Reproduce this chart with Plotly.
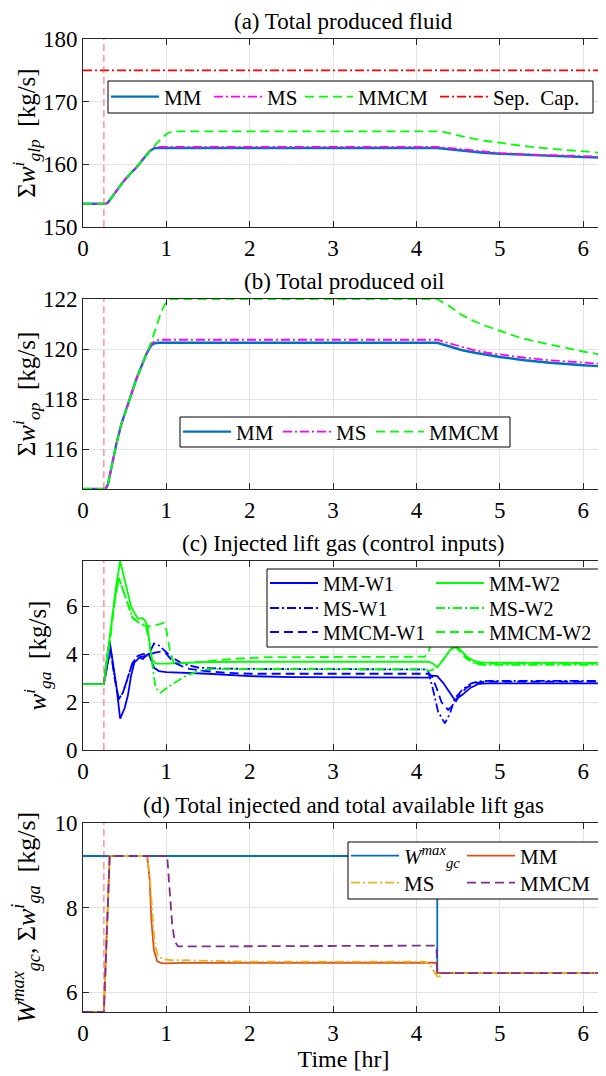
import plotly.graph_objects as go

# ---------------- data ----------------
X_RANGE = [0, 6.25]
DIST_T = 0.25  # disturbance time (vertical red dashed line)

# (a) total produced fluid [kg/s]
t_a = [0, 0.27, 0.30, 0.34, 0.40, 0.48, 0.56, 0.64, 0.72, 0.80, 0.85, 0.90,
       4.25, 4.40, 4.60, 4.80, 5.00, 5.30, 5.60, 6.00, 6.25]
fluid_mm = [153.7, 153.7, 153.9, 154.6, 155.7, 157.2, 158.4, 159.5, 160.8, 162.1, 162.55, 162.6,
            162.6, 162.4, 162.1, 161.85, 161.7, 161.5, 161.35, 161.15, 161.05]
fluid_ms = [153.7, 153.7, 153.9, 154.6, 155.7, 157.2, 158.4, 159.5, 160.8, 162.1, 162.7, 162.8,
            162.8, 162.6, 162.25, 162.0, 161.8, 161.6, 161.45, 161.3, 161.2]
t_a_mmcm = [0, 0.27, 0.30, 0.34, 0.40, 0.48, 0.56, 0.64, 0.72, 0.80, 0.88, 0.96, 1.02, 1.08,
            4.30, 4.45, 4.60, 4.80, 5.00, 5.30, 5.60, 6.00, 6.25]
fluid_mmcm = [153.7, 153.7, 153.9, 154.6, 155.7, 157.2, 158.4, 159.5, 160.8, 162.1, 163.3, 164.4, 165.0, 165.25,
              165.25, 164.8, 164.3, 163.8, 163.4, 162.9, 162.5, 162.05, 161.8]
t_sep = [0, 6.25]
sep_cap = [175, 175]

# (b) total produced oil [kg/s]
t_b = [0, 0.27, 0.30, 0.34, 0.40, 0.46, 0.52, 0.58, 0.64, 0.70, 0.76, 0.82, 0.86, 0.92,
       4.25, 4.40, 4.55, 4.70, 4.85, 5.00, 5.30, 5.60, 6.00, 6.25]
oil_mm = [114.4, 114.4, 114.6, 115.3, 116.2, 117.0, 117.6, 118.2, 118.8, 119.3, 119.8, 120.15, 120.23, 120.25,
          120.25, 120.1, 119.95, 119.85, 119.75, 119.68, 119.55, 119.45, 119.35, 119.3]
oil_ms = [114.4, 114.4, 114.6, 115.3, 116.2, 117.0, 117.6, 118.2, 118.8, 119.3, 119.8, 120.2, 120.32, 120.37,
          120.37, 120.22, 120.07, 119.95, 119.85, 119.78, 119.65, 119.55, 119.45, 119.4]
t_b_mmcm = [0, 0.27, 0.30, 0.34, 0.40, 0.46, 0.52, 0.58, 0.64, 0.70, 0.76, 0.82, 0.88, 0.94, 1.00, 1.05,
            4.25, 4.40, 4.55, 4.70, 4.85, 5.00, 5.20, 5.40, 5.60, 5.80, 6.00, 6.25]
oil_mmcm = [114.4, 114.4, 114.6, 115.3, 116.2, 117.0, 117.6, 118.2, 118.8, 119.3, 119.8, 120.3, 120.9, 121.5, 121.9, 122.0,
            122.0, 121.7, 121.35, 121.1, 120.9, 120.72, 120.5, 120.32, 120.17, 120.03, 119.9, 119.75]

# (c) injected lift gas per well [kg/s]
t_mm_w1 = [0, 0.25, 0.29, 0.32, 0.36, 0.40, 0.446, 0.50, 0.54, 0.576, 0.615, 0.675, 0.72, 0.76, 0.79, 0.82,
           0.852, 0.91, 1.00, 1.50, 2.00, 2.50, 4.15, 4.20, 4.25, 4.32, 4.40, 4.46, 4.55, 4.65, 4.75, 4.85, 6.25]
mm_w1 = [2.75, 2.75, 3.9, 4.54, 3.6, 2.67, 1.31, 1.75, 2.3, 3.08, 3.64, 3.85, 3.8, 3.95, 4.0, 3.7,
         3.43, 3.29, 3.25, 3.18, 3.08, 3.04, 3.02, 3.1, 3.08, 2.8, 2.4, 2.08, 2.3, 2.6, 2.76, 2.78, 2.78]
t_mm_w2 = [0, 0.25, 0.32, 0.40, 0.446, 0.50, 0.576, 0.62, 0.655, 0.69, 0.714, 0.745, 0.773, 0.813, 0.832,
           0.872, 1.00, 1.50, 2.00, 4.15, 4.20, 4.25, 4.32, 4.40, 4.46, 4.52, 4.60, 4.70, 4.80, 6.25]
mm_w2 = [2.75, 2.75, 4.7, 6.9, 7.88, 7.1, 6.0, 5.7, 5.5, 5.48, 5.5, 5.4, 5.17, 4.05, 3.75,
         3.6, 3.6, 3.67, 3.68, 3.68, 3.6, 3.45, 3.75, 4.15, 4.37, 4.2, 3.9, 3.7, 3.64, 3.63]
t_ms_w1 = [0, 0.25, 0.29, 0.33, 0.38, 0.43, 0.48, 0.54, 0.595, 0.655, 0.714, 0.79, 0.852, 0.91, 0.99, 1.07,
           1.19, 1.39, 1.60, 2.00, 4.10, 4.14, 4.20, 4.26, 4.34, 4.40, 4.46, 4.56, 4.66, 4.75, 4.85, 6.25]
ms_w1 = [2.75, 2.75, 3.5, 4.2, 3.0, 2.12, 2.4, 3.08, 3.64, 3.92, 4.0, 4.0, 4.44, 4.36, 4.12, 3.85,
         3.61, 3.43, 3.4, 3.38, 3.36, 3.3, 2.5, 1.6, 1.11, 1.5, 2.15, 2.55, 2.78, 2.86, 2.88, 2.88]
t_ms_w2 = [0, 0.25, 0.32, 0.38, 0.43, 0.517, 0.595, 0.675, 0.754, 0.79, 0.825, 0.87, 0.93, 1.07, 1.227,
           1.385, 1.50, 1.70, 2.00, 4.10, 4.15, 4.20, 4.26, 4.34, 4.40, 4.46, 4.54, 4.62, 4.70, 4.78, 6.25]
ms_w2 = [2.75, 2.75, 4.5, 6.2, 7.18, 6.28, 5.51, 5.3, 5.17, 4.6, 3.75, 2.6, 2.39, 2.74, 3.08,
         3.29, 3.37, 3.38, 3.38, 3.36, 3.3, 3.35, 3.5, 3.85, 4.15, 4.28, 4.1, 3.8, 3.6, 3.55, 3.55]
t_mmcm_w1 = [0, 0.25, 0.29, 0.33, 0.38, 0.43, 0.48, 0.54, 0.595, 0.655, 0.714, 0.79, 0.85, 0.93, 0.99, 1.05,
             1.12, 1.25, 1.45, 1.70, 2.00, 4.15, 4.18, 4.24, 4.30, 4.38, 4.45, 4.52, 4.60, 4.70, 4.80, 4.90, 6.25]
mmcm_w1 = [2.75, 2.75, 3.5, 4.2, 3.0, 2.12, 2.4, 3.08, 3.64, 3.85, 3.9, 3.95, 4.05, 4.1, 4.05, 3.8,
           3.6, 3.4, 3.3, 3.22, 3.18, 3.18, 3.1, 2.6, 2.0, 1.67, 1.9, 2.3, 2.6, 2.78, 2.84, 2.85, 2.85]
t_mmcm_w2 = [0, 0.25, 0.32, 0.38, 0.43, 0.517, 0.595, 0.675, 0.754, 0.79, 0.832, 0.91, 0.97, 1.00, 1.05,
             1.09, 1.20, 1.50, 1.80, 2.20, 4.10, 4.14, 4.18, 4.22, 4.28, 4.36, 4.45, 4.52, 4.60, 4.68, 4.76, 6.25]
mmcm_w2 = [2.75, 2.75, 4.5, 6.2, 7.18, 6.28, 5.51, 5.3, 5.17, 5.15, 5.17, 5.24, 5.3, 5.0, 4.0,
           3.64, 3.62, 3.7, 3.8, 3.87, 3.89, 4.0, 4.5, 4.8, 4.85, 4.75, 4.45, 4.1, 3.8, 3.65, 3.6, 3.6]

# (d) total injected and total available lift gas [kg/s]
t_wmax = [0, 4.25, 4.25, 6.25]
w_max = [9.22, 9.22, 6.45, 6.45]
t_tot_mm = [0, 0.25, 0.32, 0.77, 0.80, 0.82, 0.85, 0.89, 0.95, 1.20, 4.24, 4.25, 6.25]
tot_mm = [5.53, 5.53, 9.22, 9.22, 8.65, 7.71, 7.0, 6.73, 6.68, 6.69, 6.7, 6.45, 6.45]
t_tot_ms = [0, 0.25, 0.32, 0.77, 0.80, 0.83, 0.86, 0.90, 0.96, 1.05, 1.50, 2.00, 4.10, 4.16, 4.22,
            4.27, 4.29, 6.25]
tot_ms = [5.53, 5.53, 9.22, 9.22, 8.75, 7.85, 7.15, 6.85, 6.78, 6.76, 6.74, 6.72, 6.72, 6.65, 6.45,
          6.32, 6.45, 6.45]
t_tot_mmcm = [0, 0.25, 0.32, 1.01, 1.04, 1.07, 1.10, 1.14, 1.25, 4.24, 4.25, 6.25]
tot_mmcm = [5.53, 5.53, 9.22, 9.22, 8.4, 7.6, 7.2, 7.08, 7.08, 7.1, 6.45, 6.45]

# axis ranges / ticks
y_ranges = [[150, 180], [114.4, 122.0], [0, 7.88], [5.53, 10]]
y_ticks = [[150, 160, 170, 180], [116, 118, 120, 122], [0, 2, 4, 6], [6, 8, 10]]
x_ticks = [0, 1, 2, 3, 4, 5, 6]

# ---------------- layout helpers (positions in page pixels) ----------------
W, H = 606, 1076
BODY = 8                      # default page margin of the html body
ML, MR, MT, MB = 75, 10, 0, 0
PW, PH = W - ML - MR, H - MT - MB


def fx(px):
    return (px - BODY - ML) / PW


def fy(py):
    return 1 - (py - BODY - MT) / PH


panels = [(39, 227), (299, 489), (561, 750), (823, 1012)]
titles = ["(a) Total produced fluid", "(b) Total produced oil",
          "(c) Injected lift gas (control inputs)",
          "(d) Total injected and total available lift gas"]
ytitles = ["Σ<i>w</i><sup><i>i</i></sup><sub><i>glp</i></sub>  [kg/s]",
           "Σ<i>w</i><sup><i>i</i></sup><sub><i>op</i></sub>  [kg/s]",
           "<i>w</i><sup><i>i</i></sup><sub><i>ga</i></sub>  [kg/s]",
           "<i>W</i><sup><i>max</i></sup><sub><i>gc</i></sub>, Σ<i>w</i><sup><i>i</i></sup><sub><i>ga</i></sub>  [kg/s]"]
ytitle_sizes = [25, 25, 25, 26]

FONT = "Liberation Serif"
AX = "#262626"
GRID = "#E3E3E3"
BLUE_M = "#0072BD"
MAG = "#FF00FF"
GRN = "#00FF00"
BLUE = "#0000FF"
ORANGE = "#D95319"
YELLOW = "#EDB120"
PURPLE = "#7E2F8E"
DASH = "9px,5px"
DASHDOT = "9px,3px,2px,3px"

fig = go.Figure()
legend_specs = []   # (legend id, text-start x, row-centre y, font size)


def add(x, y, name, color, dash, panel, text_x, row_y, fsize=21, width=1.8):
    sfx = "" if panel == 1 else str(panel)
    n = len(legend_specs) + 1
    lid = "legend" if n == 1 else "legend%d" % n
    legend_specs.append((lid, text_x, row_y, fsize))
    fig.add_trace(go.Scatter(x=x, y=y, mode="lines", name=name, showlegend=True,
                             line=dict(color=color, width=width, dash=dash),
                             xaxis="x" + sfx, yaxis="y" + sfx, legend=lid))


# panel a
add(t_a, fluid_mm, "MM", BLUE_M, "solid", 1, 164, 97, width=2.4)
add(t_a, fluid_ms, "MS", MAG, DASHDOT, 1, 267, 97)
add(t_a_mmcm, fluid_mmcm, "MMCM", GRN, DASH, 1, 358, 97)
add(t_sep, sep_cap, "Sep.  Cap.", "#FF0000", DASHDOT, 1, 493, 97)
# panel b
add(t_b, oil_mm, "MM", BLUE_M, "solid", 2, 236, 432, width=2.4)
add(t_b, oil_ms, "MS", MAG, DASHDOT, 2, 336, 432)
add(t_b_mmcm, oil_mmcm, "MMCM", GRN, DASH, 2, 429, 432)
# panel c
add(t_mm_w1, mm_w1, "MM-W1", BLUE, "solid", 3, 323, 583, fsize=20)
add(t_mm_w2, mm_w2, "MM-W2", GRN, "solid", 3, 489, 583, fsize=20)
add(t_ms_w1, ms_w1, "MS-W1", BLUE, DASHDOT, 3, 323, 608, fsize=20)
add(t_ms_w2, ms_w2, "MS-W2", GRN, DASHDOT, 3, 489, 608, fsize=20)
add(t_mmcm_w1, mmcm_w1, "MMCM-W1", BLUE, DASH, 3, 323, 632, fsize=20)
add(t_mmcm_w2, mmcm_w2, "MMCM-W2", GRN, DASH, 3, 489, 632, fsize=20)
# panel d
add(t_wmax, w_max, "<i>W</i><sup><i>max</i></sup><sub><i>gc</i></sub>", BLUE_M, "solid", 4, 404, 856)
add(t_tot_mm, tot_mm, "MM", ORANGE, "solid", 4, 520, 856)
add(t_tot_ms, tot_ms, "MS", YELLOW, DASHDOT, 4, 404, 883)
add(t_tot_mmcm, tot_mmcm, "MMCM", PURPLE, DASH, 4, 520, 883)

layout = dict(width=W, height=H, margin=dict(l=ML, r=MR, t=MT, b=MB), showlegend=True,
              paper_bgcolor="white", plot_bgcolor="white",
              font=dict(family=FONT, size=22, color="black"))
annotations = []
shapes = []
for i, (top, bot) in enumerate(panels):
    sfx = "" if i == 0 else str(i + 1)
    layout["xaxis" + sfx] = dict(domain=[0, 1], range=X_RANGE, anchor="y" + sfx,
                                 tickvals=x_ticks, ticks="inside", ticklen=6, tickcolor=AX,
                                 showline=True, linecolor=AX, linewidth=1, mirror="ticks",
                                 showgrid=True, gridcolor=GRID, zeroline=False,
                                 tickfont=dict(size=23), automargin=False)
    layout["yaxis" + sfx] = dict(domain=[fy(bot), fy(top)], range=y_ranges[i], anchor="x" + sfx,
                                 tickvals=y_ticks[i], ticks="inside", ticklen=6, tickcolor=AX,
                                 showline=True, linecolor=AX, linewidth=1, mirror="ticks",
                                 showgrid=True, gridcolor=GRID, zeroline=False,
                                 tickfont=dict(size=23), automargin=False,
                                 title=dict(text=ytitles[i], font=dict(size=ytitle_sizes[i]),
                                            standoff=12))
    annotations.append(dict(text=titles[i], xref="paper", yref="paper",
                            x=0.5, y=fy(top - 3), xanchor="center", yanchor="bottom",
                            showarrow=False, font=dict(size=23)))
    shapes.append(dict(type="line", xref="x" + sfx, yref="y" + sfx + " domain",
                       x0=DIST_T, x1=DIST_T, y0=0, y1=1,
                       line=dict(color="rgba(255,60,60,0.55)", width=1.5, dash="7px,4px"),
                       layer="above"))

layout["xaxis4"]["title"] = dict(text="Time [hr]", font=dict(size=24), standoff=2)

# legend boxes (page px: x0, y0, x1, y1)
legend_boxes = [(108, 81, 593, 113), (180, 417, 510, 447), (267, 569, 599, 647), (348, 842, 600, 899)]
for (x0, y0, x1, y1) in legend_boxes:
    shapes.append(dict(type="rect", xref="paper", yref="paper",
                       x0=fx(x0), x1=fx(x1), y0=fy(y1), y1=fy(y0),
                       fillcolor="white", line=dict(color="black", width=1), layer="above"))

ITEMW = 48
for lid, text_x, row_y, fsize in legend_specs:
    layout[lid] = dict(orientation="v", x=fx(text_x - (ITEMW + 10)), y=fy(row_y),
                       xanchor="left", yanchor="middle", bgcolor="rgba(0,0,0,0)",
                       borderwidth=0, itemwidth=ITEMW, visible=True,
                       font=dict(family=FONT, size=fsize))

layout["annotations"] = annotations
layout["shapes"] = shapes
fig.update_layout(**layout)
fig.write_html("out.html")
